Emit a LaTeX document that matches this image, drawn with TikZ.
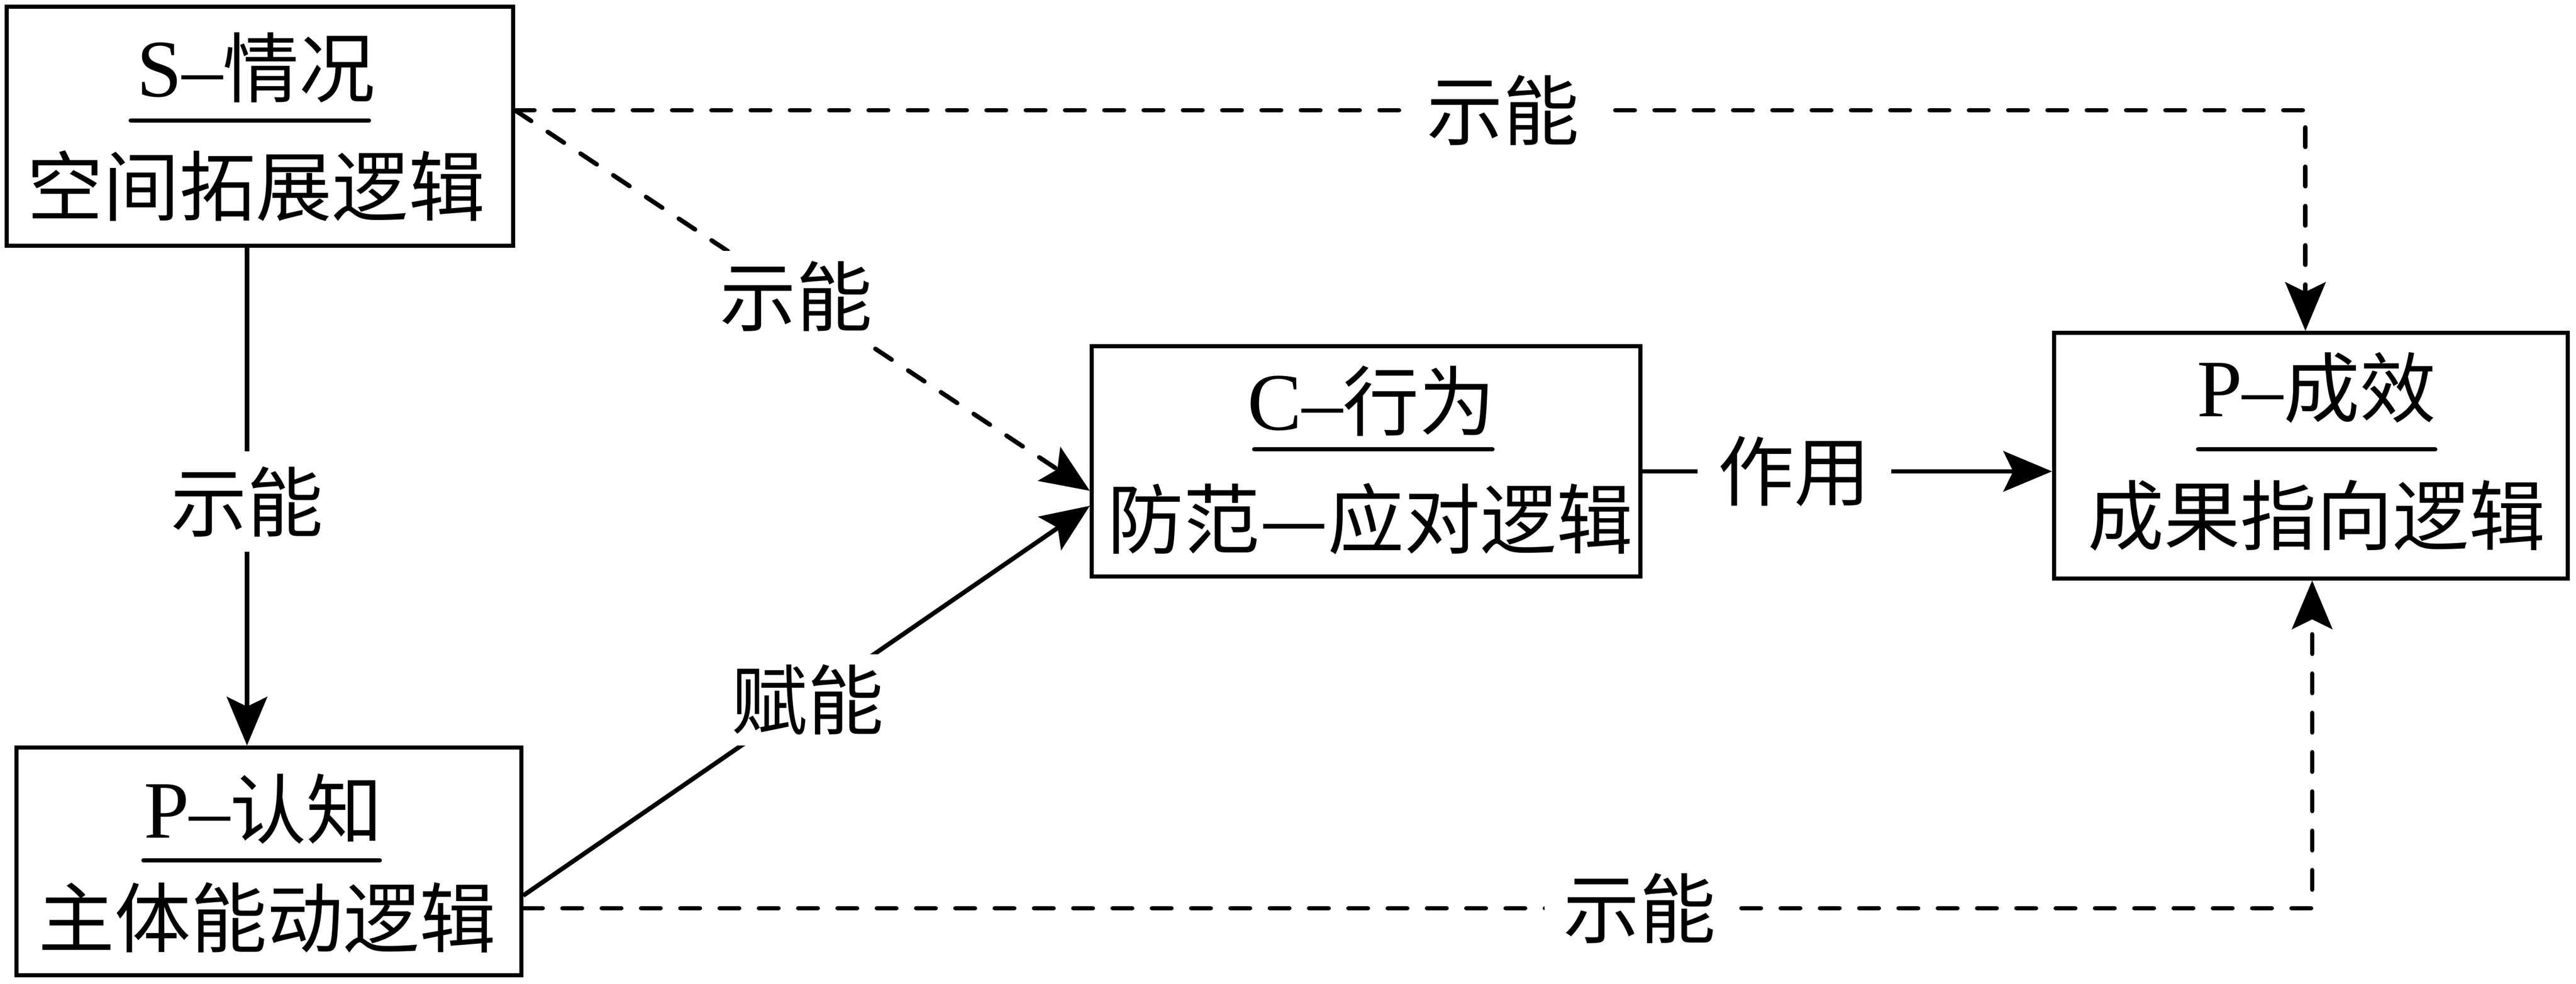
\documentclass[tikz,border=0pt]{standalone}
\usepackage{fontspec}
\setmainfont{Liberation Serif}
\newfontfamily\cjk{Noto Sans CJK SC}
\usetikzlibrary{arrows.meta}
\newcommand{\zhtext}[1]{{\fontsize{58}{70}\selectfont\cjk #1}}
\begin{document}
\begin{tikzpicture}[
  x=1cm,y=1cm,
  box/.style={draw=black, line width=0.11cm, inner sep=0pt},
  txt/.style={font=\fontsize{58}{70}\selectfont, inner sep=0pt},
  ttl/.style={line width=0.11cm, line cap=round},
  conn/.style={line width=0.12cm, draw=black},
  dsh/.style={conn, dash pattern=on 0.52cm off 0.53cm, line cap=round},
  arr/.style={-{Stealth[length=1.3cm,width=1.08cm,inset=0.26cm]}},
  lbl/.style={font=\fontsize{58}{70}\selectfont\cjk, fill=white, inner xsep=0.5cm, inner ysep=0.3cm}
]
\useasboundingbox (0,0) rectangle (68.83,-26.29);

% S box
\node[box, minimum width=13.52cm, minimum height=6.38cm] (S) at (6.945,-3.375) {};
\node[txt] (St) at (6.84,-1.80) {{\fontsize{62}{70}\selectfont S–}\zhtext{情况}};
\draw[ttl] (3.49,-3.22) -- (9.86,-3.22);
\node[txt] (Sb) at (6.84,-4.97) {\zhtext{空间拓展逻辑}};

% P-认知 box
\node[box, minimum width=13.49cm, minimum height=6.09cm] (PC) at (7.18,-23.02) {};
\node[txt] (PCt) at (7.04,-21.61) {{\fontsize{62}{70}\selectfont P–}\zhtext{认知}};
\draw[ttl] (3.83,-22.99) -- (10.15,-22.99);
\node[txt] (PCb) at (7.14,-24.52) {\zhtext{主体能动逻辑}};

% C box
\node[box, minimum width=14.65cm, minimum height=6.16cm] (C) at (36.50,-12.325) {};
\node[txt] (Ct) at (36.65,-10.72) {{\fontsize{62}{70}\selectfont C–}\zhtext{行为}};
\draw[ttl] (33.51,-12.01) -- (39.88,-12.01);
\node[txt] (Cb) at (36.61,-13.87) {\zhtext{防范—应对逻辑}};

% P-成效 box
\node[box, minimum width=13.72cm, minimum height=6.56cm] (PE) at (61.745,-12.175) {};
\node[txt] (PEt) at (61.90,-10.36) {{\fontsize{62}{70}\selectfont P–}\zhtext{成效}};
\draw[ttl] (58.73,-12.01) -- (65.07,-12.01);
\node[txt] (PEb) at (61.90,-13.77) {\zhtext{成果指向逻辑}};

% helper coordinates
\coordinate (vx) at (6.60,0);
\coordinate (tx) at (61.60,0);
\coordinate (bx) at (61.78,0);
\coordinate (c1) at ([yshift=-0.27cm]C.east);

% connectors
\draw[conn, arr] (S.south -| vx) -- node[lbl, pos=0.51, inner xsep=0.1cm, inner ysep=0.4cm] {示能} (PC.north -| vx);
\draw[dsh, arr] ([yshift=0.43cm]S.east) -- node[lbl, pos=0.489, inner xsep=0pt, inner ysep=0.28cm] {示能} ([yshift=-0.79cm]C.west);
\draw[dsh, arr] ([yshift=0.43cm]S.east) -| node[lbl, pos=0.276, inner xsep=0.55cm] {示能} (PE.north -| tx);
\draw[dsh, arr] ([yshift=-1.25cm]PC.east) -| node[lbl, pos=0.312, inner xsep=0.5cm] {示能} (PE.south -| bx);
\draw[conn, arr] ([yshift=-0.91cm]PC.east) -- node[lbl, pos=0.502, inner xsep=0pt, inner ysep=0.28cm] {赋能} ([yshift=-1.19cm]C.west);
\draw[conn, arr] (c1) -- node[lbl, pos=0.371, inner xsep=0.55cm] {作用} (c1 -| PE.west);
\end{tikzpicture}
\end{document}
